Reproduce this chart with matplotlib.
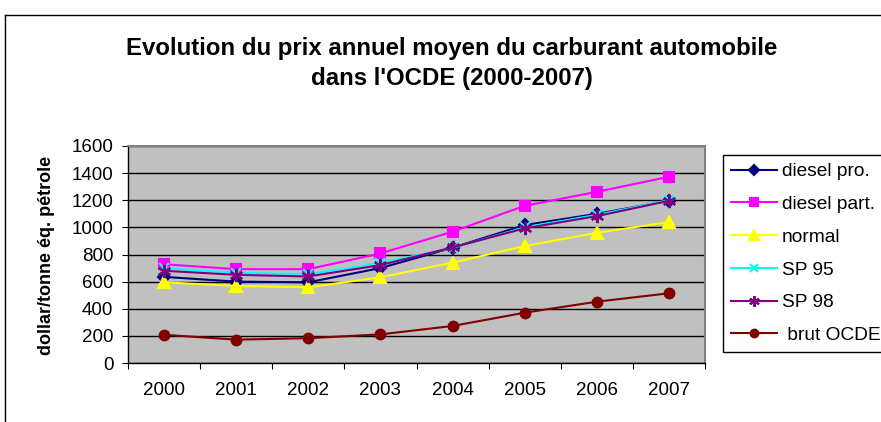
import matplotlib
matplotlib.use("Agg")
import matplotlib.pyplot as plt
from matplotlib.lines import Line2D

plt.rcParams['font.family'] = ['Liberation Sans', 'DejaVu Sans']

years = ["2000", "2001", "2002", "2003", "2004", "2005", "2006", "2007"]
diesel_pro = [635, 600, 595, 700, 850, 1017, 1100, 1196]
diesel_part = [728, 692, 692, 808, 968, 1159, 1262, 1373]
normal = [595, 568, 558, 632, 740, 862, 960, 1039]
sp95 = [700, 665, 655, 738, 848, 1000, 1092, 1200]
sp98 = [680, 650, 638, 722, 852, 993, 1083, 1196]
brut = [208, 172, 183, 211, 273, 371, 452, 514]
y_ticks = [0, 200, 400, 600, 800, 1000, 1200, 1400, 1600]

W, H = 881, 422
fig = plt.figure(figsize=(W / 100, H / 100), dpi=100)

# outer chart border (only left and top visible)
fig.add_artist(Line2D([5 / W, 5 / W], [0, 1 - 15 / H], transform=fig.transFigure, color='black', lw=1))
fig.add_artist(Line2D([5 / W, 1], [1 - 15 / H, 1 - 15 / H], transform=fig.transFigure, color='black', lw=1))

left, right, top, bottom = 128, 705, 146, 363
ax = fig.add_axes([left / W, 1 - bottom / H, (right - left) / W, (bottom - top) / H])
ax.set_facecolor('#C0C0C0')

x = list(range(len(years)))
series = [
    ("diesel pro.", diesel_pro, '#000080', 'D', 6),
    ("diesel part.", diesel_part, '#FF00FF', 's', 7),
    ("normal", normal, '#FFFF00', '^', 8.5),
    ("SP 95", sp95, '#00FFFF', 'x', 7.5),
    ("SP 98", sp98, '#800080', (6, 2, 0), 9.5),
    (" brut OCDE", brut, '#800000', 'o', 7),
]
for label, vals, col, mk, ms in series:
    ax.plot(x, vals, color=col, marker=mk, markersize=ms, lw=1.5,
            markerfacecolor=col, markeredgecolor=col, markeredgewidth=1.5,
            label=label, zorder=3)

ax.set_xlim(-0.5, 7.5)
ax.set_ylim(0, 1600)
ax.set_yticks(y_ticks)
ax.set_yticklabels([str(v) for v in y_ticks], fontsize=13.5)
ax.yaxis.grid(True, color='black', lw=1)
ax.set_axisbelow(True)

ax.set_xticks([i - 0.5 for i in range(len(years) + 1)])
ax.set_xticklabels([])
ax.set_xticks(x, minor=True)
ax.set_xticklabels(years, minor=True, fontsize=13.5)
ax.tick_params(axis='x', which='minor', length=0, pad=14)
ax.tick_params(axis='x', which='major', length=4.5, direction='out', color='black')
ax.tick_params(axis='y', length=4.5, direction='out', color='black', pad=6)

for s in ['top', 'right']:
    ax.spines[s].set_color('#808080')
    ax.spines[s].set_linewidth(1.5)
for s in ['left', 'bottom']:
    ax.spines[s].set_color('black')
    ax.spines[s].set_linewidth(1)

fig.text(47 / W, 1 - 255 / H, "dollar/tonne éq. pétrole", rotation=90,
         ha='center', va='center', fontsize=13, fontweight='bold')

fig.text(452 / W, 1 - 48 / H, "Evolution du prix annuel moyen du carburant automobile",
         ha='center', va='center', fontsize=17.3, fontweight='bold')
fig.text(452 / W, 1 - 79 / H, "dans l'OCDE (2000-2007)",
         ha='center', va='center', fontsize=17.3, fontweight='bold')

leg = ax.legend(loc='upper left', bbox_to_anchor=(723 / W, 1 - 155 / H),
                bbox_transform=fig.transFigure, fontsize=13.8, frameon=True,
                fancybox=False, edgecolor='black', framealpha=1, facecolor='white',
                handlelength=2.4, handletextpad=0.27, labelspacing=0.8,
                borderpad=0.41, borderaxespad=0, markerscale=0.8)
leg.get_frame().set_linewidth(1)

fig.savefig("out.png", dpi=100)
